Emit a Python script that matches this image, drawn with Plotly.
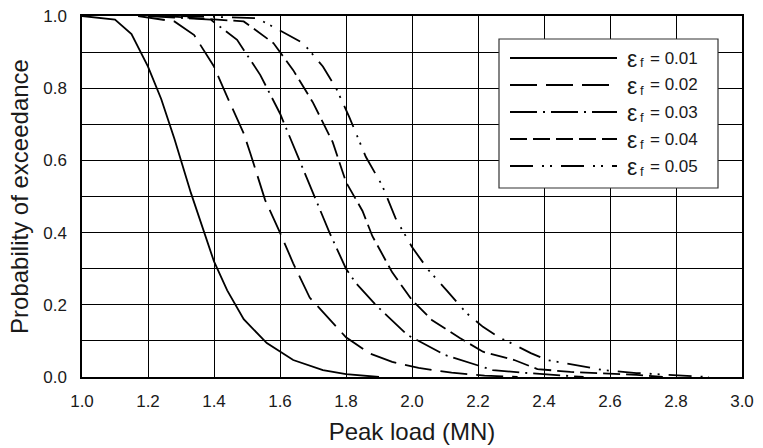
import plotly.graph_objects as go

# ---- data ----
labels = ["0.01", "0.02", "0.03", "0.04", "0.05"]

x1 = [1.0, 1.1, 1.15, 1.2, 1.24, 1.28, 1.33, 1.36, 1.40, 1.44, 1.49, 1.56, 1.64, 1.73, 1.80, 1.90]
p1 = [1.0, 0.99, 0.95, 0.86, 0.77, 0.66, 0.51, 0.43, 0.32, 0.24, 0.16, 0.094, 0.047, 0.019, 0.008, 0.0]

x2 = [1.17, 1.28, 1.34, 1.40, 1.44, 1.49, 1.51, 1.555, 1.60, 1.64, 1.69, 1.76, 1.80, 1.87, 1.94, 2.02, 2.12, 2.22, 2.32]
p2 = [1.0, 0.985, 0.947, 0.86, 0.776, 0.675, 0.62, 0.49, 0.40, 0.315, 0.22, 0.15, 0.11, 0.066, 0.042, 0.025, 0.012, 0.004, 0.0]

x3 = [1.2, 1.39, 1.47, 1.54, 1.60, 1.65, 1.70, 1.75, 1.80, 1.83, 1.89, 1.985, 2.10, 2.245, 2.35, 2.46, 2.52]
p3 = [1.0, 0.99, 0.934, 0.837, 0.73, 0.62, 0.51, 0.40, 0.30, 0.26, 0.20, 0.117, 0.061, 0.019, 0.011, 0.003, 0.0]

x4 = [1.25, 1.49, 1.58, 1.64, 1.70, 1.76, 1.80, 1.85, 1.88, 1.94, 2.0, 2.06, 2.145, 2.215, 2.31, 2.38, 2.48, 2.58, 2.68, 2.76]
p4 = [1.0, 0.985, 0.925, 0.85, 0.76, 0.65, 0.54, 0.46, 0.39, 0.29, 0.213, 0.158, 0.108, 0.07, 0.047, 0.022, 0.014, 0.011, 0.006, 0.0]

x5 = [1.3, 1.53, 1.60, 1.67, 1.73, 1.77, 1.81, 1.86, 1.91, 1.95, 2.0, 2.05, 2.105, 2.165, 2.215, 2.267, 2.30, 2.36, 2.41, 2.48, 2.58, 2.68, 2.78, 2.90]
p5 = [1.0, 0.994, 0.96, 0.925, 0.86, 0.80, 0.72, 0.61, 0.53, 0.44, 0.36, 0.296, 0.24, 0.177, 0.139, 0.108, 0.094, 0.066, 0.047, 0.036, 0.019, 0.011, 0.006, 0.0]

xs = [x1, x2, x3, x4, x5]
ps = [p1, p2, p3, p4, p5]

x_ticks = [1.0, 1.2, 1.4, 1.6, 1.8, 2.0, 2.2, 2.4, 2.6, 2.8, 3.0]
y_ticks = [0.0, 0.2, 0.4, 0.6, 0.8, 1.0]

# ---- styles ----
dashes = ["solid", "27px,9px", "27px,6px,2px,6px", "17px,6px", "23px,9px,2px,6px,2px,9px"]
LW = 1.8
FONT = "Liberation Sans"
TXT = "#1a1a1a"

fig = go.Figure()
for x, p, d in zip(xs, ps, dashes):
    fig.add_trace(go.Scatter(x=x, y=p, mode="lines",
                             line=dict(color="black", width=LW, dash=d),
                             showlegend=False, hoverinfo="skip"))

fig.update_layout(
    width=763, height=448,
    margin=dict(l=82, r=21, t=16, b=71),
    paper_bgcolor="white", plot_bgcolor="white",
    font=dict(family=FONT, color=TXT, size=17),
)
fig.update_xaxes(
    range=[1.0, 3.0], tickvals=x_ticks, tickformat=".1f",
    showgrid=True, gridcolor="black", gridwidth=1,
    showline=True, linecolor="black", linewidth=1.5, mirror=True,
    ticks="", zeroline=False, automargin=False, ticklabelstandoff=8,
    tickfont=dict(size=17, family=FONT, color=TXT),
    title=dict(text="Peak load (MN)", font=dict(size=24, family=FONT, color=TXT), standoff=13),
)
fig.update_yaxes(
    range=[0.0, 1.0], tickvals=y_ticks, tickformat=".1f",
    showgrid=True, gridcolor="black", gridwidth=1,
    minor=dict(dtick=0.1, showgrid=True, gridcolor="black", gridwidth=1),
    showline=True, linecolor="black", linewidth=1.5, mirror=True,
    ticks="", zeroline=False, automargin=False, ticklabelstandoff=10,
    tickfont=dict(size=17, family=FONT, color=TXT),
    title=dict(text="Probability of exceedance", font=dict(size=24, family=FONT, color=TXT), standoff=8),
)

# ---- manual legend (long line samples as in the reference) ----
def px2x(px):
    return (px - 82) / 660.0

def py2y(py):
    return (377 - py) / 361.0

fig.add_shape(type="rect", xref="paper", yref="paper",
              x0=px2x(499), x1=px2x(718), y0=py2y(188), y1=py2y(39),
              line=dict(color="#333", width=1.2), fillcolor="white", layer="above")
rows = [58, 85, 112, 139, 166]
for lab, d, r in zip(labels, dashes, rows):
    fig.add_shape(type="line", xref="paper", yref="paper",
                  x0=px2x(510), x1=px2x(617), y0=py2y(r), y1=py2y(r),
                  line=dict(color="black", width=LW, dash=d), layer="above")
    fig.add_annotation(xref="paper", yref="paper", x=px2x(625), y=py2y(r + 1),
                       xanchor="left", yanchor="middle", showarrow=False,
                       text="ε", font=dict(size=23, color=TXT, family=FONT))
    fig.add_annotation(xref="paper", yref="paper", x=px2x(638), y=py2y(r + 5),
                       xanchor="left", yanchor="middle", showarrow=False,
                       text="f", font=dict(size=13, color=TXT, family=FONT))
    fig.add_annotation(xref="paper", yref="paper", x=px2x(648), y=py2y(r),
                       xanchor="left", yanchor="middle", showarrow=False,
                       text="= " + lab, font=dict(size=17, color=TXT, family=FONT))

fig.write_html("out.html", config={"displayModeBar": False},
               post_script="document.body.style.margin='0';document.body.style.padding='0';")
